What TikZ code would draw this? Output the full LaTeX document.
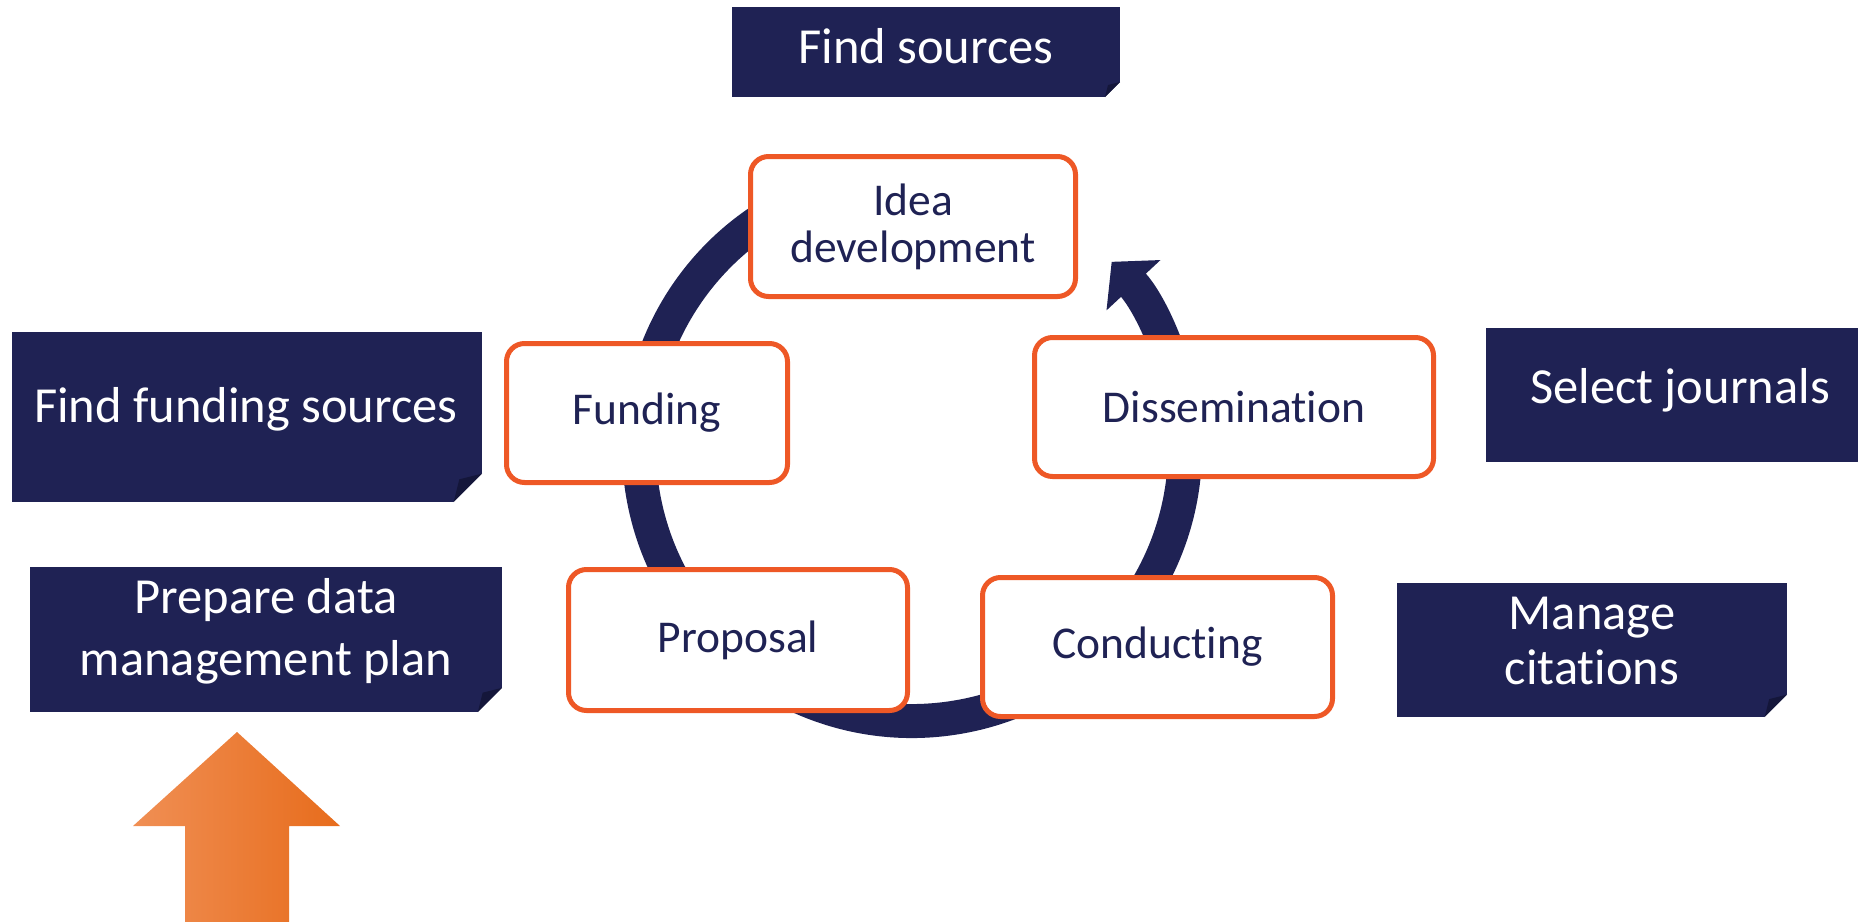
\documentclass[tikz,border=0pt]{standalone}
\usepackage{fontspec}
\setmainfont{Carlito}[Ligatures={CommonOff, ContextualOff}]
\usetikzlibrary{arrows.meta}
\definecolor{navy}{RGB}{31,34,84}
\definecolor{navyfold}{RGB}{20,22,58}
\definecolor{stageorange}{RGB}{238,88,38}
\definecolor{arrowlight}{RGB}{240,143,84}
\definecolor{arrowmid}{RGB}{243,128,40}
\definecolor{arrowdark}{RGB}{231,108,28}
\newcommand{\stagefont}{\fontsize{45.5}{47}\selectfont}
\newcommand{\taskfont}{\fontsize{50.5}{62}\selectfont}

\tikzset{
  stage/.style={draw=stageorange, line width=5pt, rounded corners=18pt, fill=white,
    text=navy, font=\stagefont, align=center, inner sep=0pt},
  task/.style={fill=navy, inner sep=0pt, minimum height=#1, path picture={
      \pgfmathsetmacro{\foldc}{#1/6}
      \pgfmathsetmacro{\foldi}{0.8*#1/6}
      \fill[white] ([yshift=\foldc]path picture bounding box.south east)
        -- (path picture bounding box.south east)
        -- ([xshift=-\foldc]path picture bounding box.south east) -- cycle;
      \fill[navyfold] ([yshift=\foldc]path picture bounding box.south east)
        -- ([xshift=-\foldc]path picture bounding box.south east)
        -- ([xshift=-\foldi, yshift=\foldi]path picture bounding box.south east) -- cycle;
    }},
  tasktext/.style={text=white, font=\taskfont, align=center},
}

\begin{document}
\begin{tikzpicture}[x=1pt, y=1pt]
\useasboundingbox (0,0) rectangle (1858,-921);
\clip (0,0) rectangle (1858,-921);
% research cycle
\draw[navy, line width=34pt, -{Triangle[width=72pt, length=32pt]}]
  (912,-448) ++(100:273) arc[start angle=100, end angle=403, radius=273];
\node[stage, minimum width=325, minimum height=140] (idea) at (913,-226.5) {Idea\\development};
\node[stage, minimum width=281, minimum height=139] (funding) at (647,-413) {Funding};
\node[stage, minimum width=399, minimum height=139] (dissem) at (1234,-407) {Dissemination};
\node[stage, minimum width=339, minimum height=141] (proposal) at (738,-640) {Proposal};
\node[stage, minimum width=350, minimum height=139] (conduct) at (1157.5,-647) {Conducting};
% library tasks
\node[task=90, minimum width=388] (findsrc) at (926,-52) {};
\node[tasktext] (findsrc text) at ([yshift=6]findsrc.center) {Find sources};
\node[task=170, minimum width=470] (fundsrc) at (247,-417) {};
\node[tasktext] (fundsrc text) at ([xshift=-1, yshift=8]fundsrc.center) {Find funding sources};
\node[task=134, minimum width=394] (journ) at (1683,-395) {};
\node[tasktext] (journ text) at ([xshift=-3, yshift=5]journ.center) {Select journals};
\node[task=134, minimum width=390] (cite) at (1592,-650) {};
\node[tasktext, font={\fontsize{50.5}{55}\selectfont}] (cite text) at ([yshift=9]cite.center) {Manage\\citations};
\node[task=145, minimum width=472] (dmp) at (266,-639.5) {};
\node[tasktext] (dmp text) at ([yshift=8]dmp.center) {Prepare data\\management plan};
% start here
\shade[left color=arrowlight, middle color=arrowmid, right color=arrowdark]
  (237,-732) -- (340,-826) -- (289,-826) -- (289,-930) -- (185,-930) -- (185,-826) -- (133,-826) -- cycle;
\end{tikzpicture}
\end{document}
